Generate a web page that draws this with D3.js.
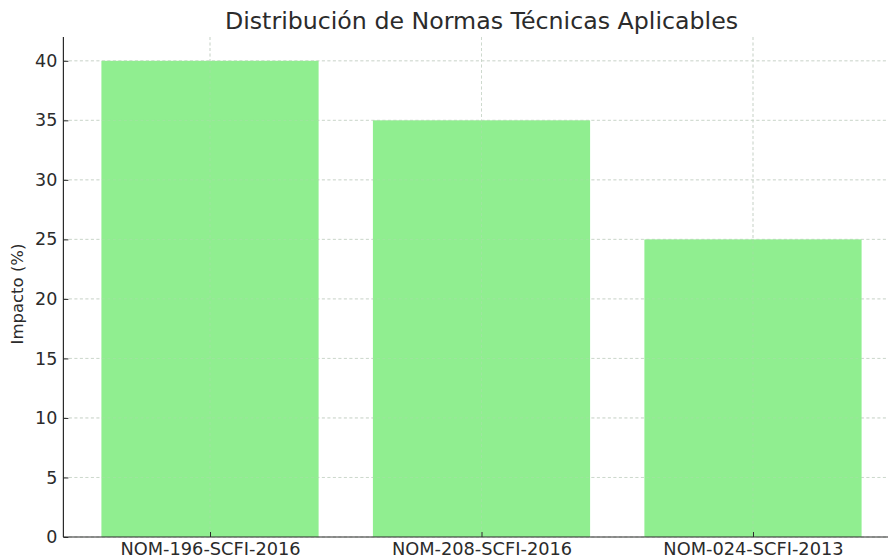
<!DOCTYPE html>
<html><head><meta charset="utf-8">
<script src="https://cdn.jsdelivr.net/npm/d3@7"></script>
<style>body{margin:0;background:#fff}svg{display:block}text{font-family:"DejaVu Sans",sans-serif;fill:#2b2b2b}</style>
</head><body><svg id="c" width="888" height="560"></svg>
<script>
const categories = ["NOM-196-SCFI-2016", "NOM-208-SCFI-2016", "NOM-024-SCFI-2013"];
const impacto = [40, 35, 25];
const yTicks = [0, 5, 10, 15, 20, 25, 30, 35, 40];
const title = "Distribución de Normas Técnicas Aplicables";
const yLabel = "Impacto (%)";

const svg = d3.select("#c");
const L = 63.4, R = 899.6, T = 37, B = 537;
const x = d3.scaleLinear().domain([-0.54, 2.54]).range([L, R]);
const y = d3.scaleLinear().domain([0, 42]).range([B, T]);
const bw = 0.8;

// grid
const grid = svg.append("g").attr("stroke", "#cfcfcf").attr("stroke-width", 0.8).attr("stroke-dasharray", "3,2.5");
grid.selectAll(".gy").data(yTicks).join("line")
  .attr("x1", L).attr("x2", R).attr("y1", d => y(d)).attr("y2", d => y(d));
grid.selectAll(".gx").data(categories).join("line")
  .attr("x1", (d, i) => x(i)).attr("x2", (d, i) => x(i)).attr("y1", T).attr("y2", B);

// bars
svg.append("g").selectAll("rect").data(impacto).join("rect")
  .attr("x", (d, i) => x(i - bw / 2)).attr("width", (d, i) => x(i + bw / 2) - x(i - bw / 2))
  .attr("y", d => y(d)).attr("height", d => B - y(d))
  .attr("fill", "#90ee90");

// faint grid over bars
const grid2 = svg.append("g").attr("stroke", "#b8d8b8").attr("stroke-width", 0.6).attr("stroke-dasharray", "3,2.5").attr("opacity", 0.6);
grid2.selectAll("line").data(categories).join("line")
  .attr("x1", (d, i) => x(i)).attr("x2", (d, i) => x(i)).attr("y1", T).attr("y2", B);
grid2.selectAll(".h").data(yTicks).join("line")
  .attr("x1", L).attr("x2", R).attr("y1", d => y(d)).attr("y2", d => y(d));

// axes
const yAxis = svg.append("g").attr("transform", `translate(${L},0)`)
  .call(d3.axisLeft(y).tickValues(yTicks).tickSize(-5).tickPadding(6));
yAxis.select(".domain").attr("stroke", "#2b2b2b").attr("stroke-width", 1.2).attr("d", `M0,${T}V${B}`);
yAxis.selectAll(".tick line").attr("stroke", "#2b2b2b");
yAxis.selectAll("text").attr("font-size", 17.5).style("font-family", '"DejaVu Sans",sans-serif').attr("fill", "#2b2b2b");

const xAxis = svg.append("g").attr("transform", `translate(0,${B})`)
  .call(d3.axisBottom(x).tickValues([0, 1, 2]).tickFormat(i => categories[i]).tickSize(-5).tickPadding(5));
xAxis.select(".domain").attr("stroke", "#2b2b2b").attr("stroke-width", 1.2).attr("d", `M${L},0H${R}`);
xAxis.selectAll(".tick line").attr("stroke", "#2b2b2b");
xAxis.selectAll("text").attr("font-size", 17.8).style("font-family", '"DejaVu Sans",sans-serif').attr("fill", "#2b2b2b");

svg.append("text").attr("x", (L + R) / 2).attr("y", 29).attr("text-anchor", "middle")
  .attr("font-size", 23.7).text(title);
svg.append("text").attr("transform", `translate(23,${(T + B) / 2 + 7}) rotate(-90)`).attr("text-anchor", "middle")
  .attr("font-size", 16.5).text(yLabel);
</script></body></html>
